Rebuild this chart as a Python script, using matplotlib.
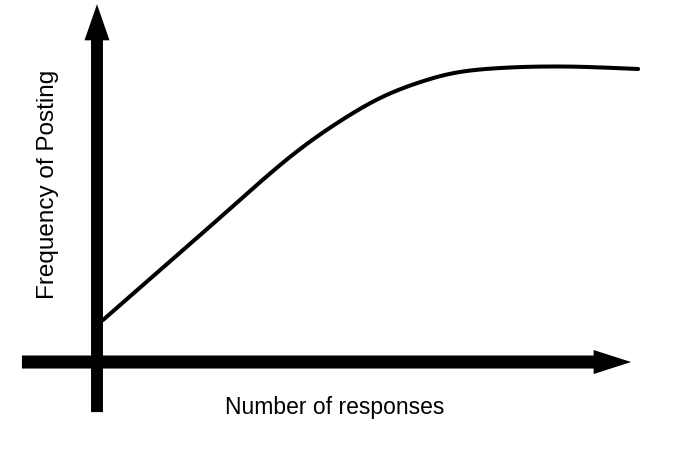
import numpy as np
import matplotlib
matplotlib.use("Agg")
import matplotlib.pyplot as plt

plt.rcParams['font.family'] = ['Liberation Sans', 'DejaVu Sans']

# curve (responses, posting frequency)
responses = [0.11, 1.91, 3.02, 3.76, 4.50, 5.24, 5.98, 6.72, 7.65, 8.76, 10.02]
frequency = [1.40, 4.23, 6.00, 7.10, 8.03, 8.80, 9.33, 9.67, 9.82, 9.85, 9.77]

x_label = "Number of responses"
y_label = "Frequency of Posting"


# Catmull-Rom spline through the read points, just to draw a smooth line
def catmull(pts, n=40):
    pts = np.vstack([pts[0], pts, pts[-1]])
    out = []
    for i in range(1, len(pts) - 2):
        p0, p1, p2, p3 = pts[i - 1], pts[i], pts[i + 1], pts[i + 2]
        s = np.linspace(0, 1, n, endpoint=False)[:, None]
        out.append(0.5 * ((2 * p1) + (-p0 + p2) * s + (2 * p0 - 5 * p1 + 4 * p2 - p3) * s ** 2
                          + (-p0 + 3 * p1 - 3 * p2 + p3) * s ** 3))
    out.append(pts[-2][None, :])
    return np.vstack(out)


fig = plt.figure(figsize=(6.9, 4.58), dpi=100)
ax = fig.add_axes([0, 0, 1, 1])
ax.set_xlim(-1.796, 10.98)
ax.set_ylim(-3.2, 12.07)
ax.axis('off')

curve = catmull(np.column_stack([responses, frequency]))
ax.plot(curve[:, 0], curve[:, 1], color='black', lw=2.9, solid_capstyle='round')

# axes drawn as thick arrows
ax.annotate('', xy=(0, 11.93), xytext=(0, -1.67),
            arrowprops=dict(arrowstyle='simple,head_length=26,head_width=18,tail_width=8.6',
                            mutation_scale=1, color='black', lw=0, shrinkA=0, shrinkB=0))
ax.annotate('', xy=(9.89, 0), xytext=(-1.39, 0),
            arrowprops=dict(arrowstyle='simple,head_length=27,head_width=17.3,tail_width=9.4',
                            mutation_scale=1, color='black', lw=0, shrinkA=0, shrinkB=0))

ax.text(4.41, -1.53, x_label, fontsize=16.5, ha='center', va='center')
ax.text(-0.9, 5.93, y_label, fontsize=17.5, ha='center', va='center', rotation=90)

plt.savefig('out.png', dpi=100)
